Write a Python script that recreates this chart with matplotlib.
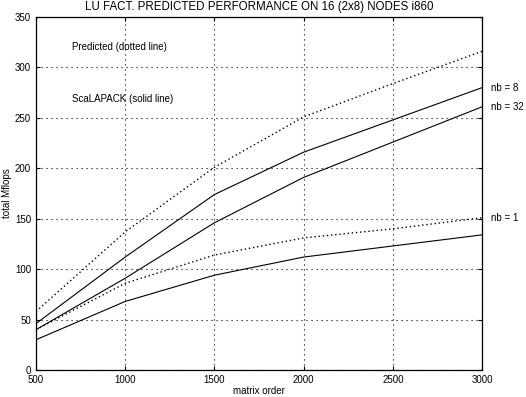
#!/usr/bin/env python3
"""LU factorization predicted vs measured performance (ScaLAPACK, i860)."""

import matplotlib
matplotlib.use("Agg")
import matplotlib.pyplot as plt

matrix_order = [500, 1000, 1500, 2000, 2500, 3000]

# ScaLAPACK measured (solid)
solid_nb8 = [46, 112, 174, 216, 248, 280]
solid_nb32 = [40, 91, 146, 191, 226, 261]
solid_nb1 = [30, 68, 94, 112, 123, 134]

# predicted (dotted)
pred_nb8 = [58, 137, 201, 251, 284, 316]
pred_nb1 = [40, 86, 114, 131, 140, 151]

curve_labels = ["nb = 8", "nb = 32", "nb = 1"]
label_values = [280, 261, 151]

x_ticks = [500, 1000, 1500, 2000, 2500, 3000]
y_ticks = [0, 50, 100, 150, 200, 250, 300, 350]

plt.rcParams.update({
    "font.family": ["Liberation Sans", "DejaVu Sans"],
    "font.size": 7,
})

fig = plt.figure(figsize=(5.26, 3.97), dpi=100)
ax = fig.add_axes([0.0684, 0.068, 0.848, 0.889])

for ys in (solid_nb8, solid_nb32, solid_nb1):
    ax.plot(matrix_order, ys, color="black", linewidth=0.8)
for ys in (pred_nb8, pred_nb1):
    ax.plot(matrix_order, ys, color="black", linewidth=1.0, linestyle=(0, (1, 2)))

ax.set_xlim(500, 3000)
ax.set_ylim(0, 350)
ax.set_xticks(x_ticks)
ax.set_yticks(y_ticks)
ax.tick_params(direction="in", top=True, right=True, length=3, width=0.8, labelsize=7)
ax.grid(True, color="black", linestyle=(0, (1, 3.5)), linewidth=0.8)
for spine in ax.spines.values():
    spine.set_linewidth(0.9)

ax.text(700, 320, "Predicted (dotted line)", fontsize=7, va="center")
ax.text(700, 269, "ScaLAPACK (solid line)", fontsize=7, va="center")

for label, val in zip(curve_labels, label_values):
    ax.text(3050, val, label, fontsize=7, va="center", clip_on=False)

ax.set_title("LU FACT. PREDICTED PERFORMANCE ON 16 (2x8) NODES i860", fontsize=8.3, pad=5)
ax.set_xlabel("matrix order", fontsize=7, labelpad=1)
ax.set_ylabel("total Mflops", fontsize=7, labelpad=2)

fig.savefig("out.png", dpi=100)
plt.close(fig)
